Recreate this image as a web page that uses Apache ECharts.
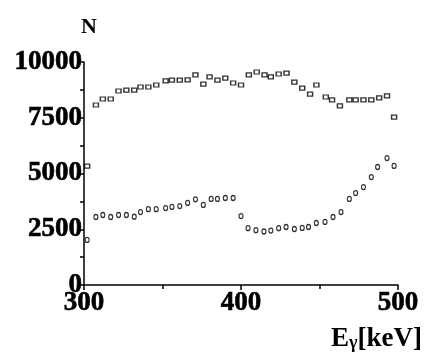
<!DOCTYPE html>
<html>
<head>
<meta charset="utf-8">
<script src="https://cdn.jsdelivr.net/npm/echarts@6/dist/echarts.min.js"></script>
<style>
  html, body { margin: 0; padding: 0; background: #fff; }
  #main { width: 424px; height: 355px; }
</style>
</head>
<body>
<div id="main"></div>
<script>
// energies in keV, counts N
const energyUpper = [302, 307.6, 312, 317, 322, 327, 332, 336, 341, 346, 352, 356, 361, 366, 371, 376, 380,
  385, 390, 395, 400, 405, 410, 415, 419, 424, 429, 434, 439, 444, 448, 454, 458, 463, 469, 473, 478,
  483, 488, 493, 497.5];
const countsUpper = [5330, 8070, 8340, 8340, 8700, 8740, 8740, 8880, 8880, 8970, 9150, 9190, 9190, 9200, 9420, 9010, 9330,
  9190, 9280, 9060, 8970, 9420, 9550, 9420, 9330, 9460, 9500, 9100, 8830, 8560, 8970, 8430, 8300, 8030, 8300, 8300, 8300,
  8300, 8390, 8480, 7530];

const energyLower = [302, 307.6, 312, 317, 322, 327, 332, 336, 341, 346, 352, 356, 361, 366, 371, 376, 381,
  385, 390, 395, 400, 404.5, 409.5, 414.6, 419, 424, 428.7, 434, 439, 443, 448, 453.5, 458.6, 463.7, 469, 473, 478,
  483, 487, 493, 497.5];
const countsLower = [2020, 3050, 3140, 3050, 3140, 3140, 3060, 3270, 3400, 3400, 3450, 3500, 3540, 3680, 3840, 3590, 3860,
  3860, 3900, 3900, 3090, 2550, 2460, 2400, 2440, 2550, 2600, 2510, 2560, 2600, 2780, 2830, 3050, 3270, 3860, 4120, 4390,
  4840, 5290, 5690, 5340];

const xTicks = [300, 400, 500];
const yTicks = [0, 2500, 5000, 7500, 10000];

const pairs = (xs, ys) => xs.map((x, i) => [x, ys[i]]);

const labelFont = {
  fontFamily: "Liberation Serif",
  fontWeight: "bold",
  fontSize: 27,
  color: "#000",
  textBorderColor: "#000",
  textBorderWidth: 0.6,
};

function chartOption() {
  return {
    animation: false,
    backgroundColor: "#fff",
    grid: { left: 84, top: 62, right: 26, bottom: 70, containLabel: false },
    xAxis: {
      type: "value",
      min: xTicks[0],
      max: xTicks[xTicks.length - 1],
      interval: 100,
      axisLine: { lineStyle: { color: "#000", width: 1.5 } },
      axisTick: { inside: false, length: 5, lineStyle: { color: "#000", width: 1.5 } },
      minorTick: { show: true, splitNumber: 2, length: 4, lineStyle: { color: "#000", width: 1.5 } },
      splitLine: { show: false },
      axisLabel: { ...labelFont, margin: 5, formatter: (v) => String(v) },
    },
    yAxis: {
      type: "value",
      min: yTicks[0],
      max: yTicks[yTicks.length - 1],
      interval: 2500,
      axisLine: { show: true, lineStyle: { color: "#000", width: 1.5 } },
      axisTick: { show: true, length: 4, lineStyle: { color: "#000", width: 1.5 } },
      minorTick: { show: true, splitNumber: 2, length: 4, lineStyle: { color: "#000", width: 1.5 } },
      splitLine: { show: false },
      axisLabel: { ...labelFont, margin: 2, formatter: (v) => String(v) },
    },
    graphic: [
      {
        type: "text",
        left: 81,
        top: 16,
        style: { text: "N", font: "bold 22px 'Liberation Serif'", fill: "#000" },
      },
      {
        type: "text",
        right: 2,
        top: 326,
        style: {
          text: "{e|E}{g|γ}{e|[keV]}",
          rich: {
            e: { font: "bold 27px 'Liberation Serif'", fill: "#000" },
            g: { font: "bold 18px 'Liberation Serif'", fill: "#000", padding: [8, 0, 0, 0] },
          },
        },
      },
    ],
    series: [
      {
        type: "scatter",
        data: pairs(energyUpper, countsUpper),
        symbol: "rect",
        symbolSize: [5, 4],
        itemStyle: { color: "#fff", borderColor: "#000", borderWidth: 1.3 },
      },
      {
        type: "scatter",
        data: pairs(energyLower, countsLower),
        symbol: "circle",
        symbolSize: [4, 5],
        itemStyle: { color: "#fff", borderColor: "#000", borderWidth: 1.2 },
      },
    ],
  };
}

const chart = echarts.init(document.getElementById("main"), null, { renderer: "canvas" });
chart.setOption(chartOption());
</script>
</body>
</html>
